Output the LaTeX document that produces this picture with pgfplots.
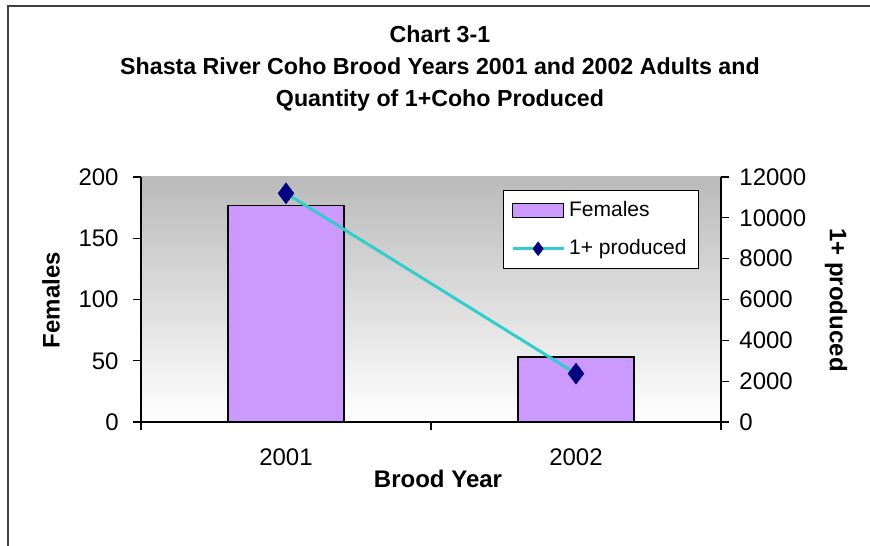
\documentclass[border=0pt]{standalone}
\usepackage{pgfplots}
\pgfplotsset{compat=1.18}
\usepackage{fontspec}
\setmainfont{Liberation Sans}
\definecolor{barfill}{HTML}{CC99FF}
\definecolor{lineturq}{HTML}{33CCCC}
\definecolor{marknavy}{HTML}{000080}
\definecolor{framegray}{HTML}{404040}
\newcommand{\tickfont}{\fontsize{12bp}{14bp}\selectfont}
\newcommand{\labfont}{\fontsize{12bp}{14bp}\selectfont\bfseries}
\newcommand{\titfont}{\fontsize{11.6bp}{14bp}\selectfont\bfseries}
\pgfplotsset{
  lineleg/.style={legend image code/.code={\draw[##1, mark repeat=2, mark phase=2, mark size=3.4bp]
    plot coordinates {(0bp,0bp) (12.75bp,0bp) (25.5bp,0bp)};}},
  barleg/.style={legend image code/.code={\draw[fill=barfill, draw=black, line width=0.6bp]
    (0bp,-3.5bp) rectangle (25.5bp,3.5bp);}},
}
\begin{document}
\begin{tikzpicture}
\path[use as bounding box] (0bp,0bp) rectangle (435bp,273bp);
\draw[framegray, line width=1bp] (4bp,0bp) -- (4bp,270bp) -- (435bp,270bp);

% titles
\node[anchor=base, font=\titfont] at (220bp,251.5bp) {Chart 3-1};
\node[anchor=base, font=\titfont] at (220bp,235.5bp) {Shasta River Coho Brood Years 2001 and 2002 Adults and};
\node[anchor=base, font=\titfont] at (220bp,219.5bp) {Quantity of 1+Coho Produced};

% left axis: females
\begin{axis}[
  at={(70.5bp,62bp)}, anchor=south west,
  scale only axis, width=290bp, height=122.5bp,
  xmin=-0.5, xmax=1.5, ymin=0, ymax=200,
  xtick={0,1}, xticklabels={2001,2002},
  minor xtick={-0.5,0.5,1.5},
  ytick={0,50,100,150,200},
  axis x line*=bottom, axis y line*=left,
  axis line style={-, black, line width=0.6bp},
  tick align=outside, major tick length=4bp, minor tick length=4bp,
  tick style={black, line width=0.6bp},
  major x tick style={draw=none},
  axis background/.style={shade, top color=black!27, bottom color=white},
  /pgf/number format/assume math mode=true,
  ticklabel style={font=\tickfont},
  xticklabel style={anchor=base, inner sep=0pt, yshift=-17.5bp},
  yticklabel style={anchor=east, inner sep=0pt, xshift=-7bp},
]
\addplot[ybar, bar width=58bp, fill=barfill, draw=black, line width=0.6bp]
  coordinates {(0,177) (1,53)};
\end{axis}

% right axis: 1+ produced
\begin{axis}[
  at={(70.5bp,62bp)}, anchor=south west,
  scale only axis, width=290bp, height=122.5bp,
  xmin=-0.5, xmax=1.5, ymin=0, ymax=12000,
  axis x line=none, axis y line*=right,
  axis line style={-, black, line width=0.6bp},
  ytick={0,2000,4000,6000,8000,10000,12000},
  scaled y ticks=false,
  tick align=outside, major tick length=4bp,
  tick style={black, line width=0.6bp},
  /pgf/number format/assume math mode=true,
  /pgf/number format/1000 sep={},
  ticklabel style={font=\tickfont},
  yticklabel style={anchor=west, inner sep=0pt, xshift=5bp},
  legend style={at={(rel axis cs:0.6235,0.947)}, anchor=north west,
    draw=black, line width=0.5bp, fill=white,
    font=\fontsize{10.5bp}{12bp}\selectfont,
    inner xsep=4bp, inner ysep=3.5bp, row sep=6bp,
    /tikz/every even column/.append style={column sep=2bp},
    cells={anchor=west}},
]
\addlegendimage{barleg}
\addlegendentry{Females}
\addplot[lineturq, line width=1.5bp, mark=diamond*, mark size=5.2bp,
  mark options={fill=marknavy, draw=marknavy, line width=0.3bp}, lineleg]
  coordinates {(0,11200) (1,2370)};
\addlegendentry{1+ produced}
\end{axis}

% axis titles
\node[rotate=90, font=\labfont] at (25.5bp,123bp) {Females};
\node[rotate=-90, font=\labfont] at (418bp,123bp) {1+ produced};
\node[anchor=base, font=\labfont] at (219bp,29.5bp) {Brood Year};
\end{tikzpicture}
\end{document}
